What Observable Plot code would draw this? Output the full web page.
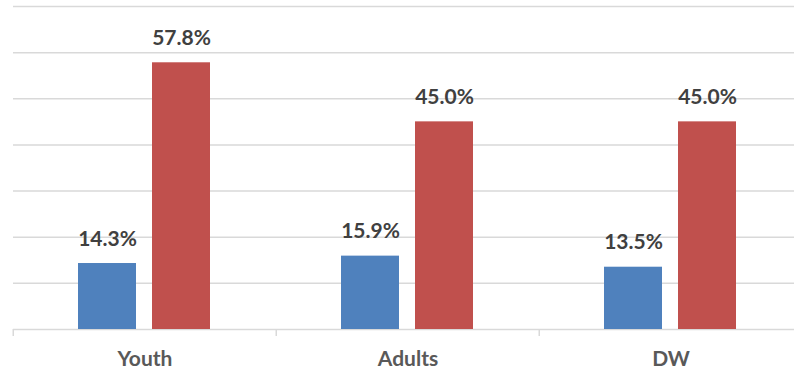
<!DOCTYPE html>
<html>
<head>
<meta charset="utf-8">
<script src="https://cdn.jsdelivr.net/npm/d3@7"></script>
<script src="https://cdn.jsdelivr.net/npm/@observablehq/plot@0.6"></script>
<style>
  html, body { margin: 0; padding: 0; background: #fff; overflow: hidden; }
  #chart svg { display: block; }
</style>
</head>
<body>
<div id="chart"></div>
<script>
// Groups along the bottom axis
const categories = ["Youth", "Adults", "DW"];
// The two series shown side by side in each group
const series = ["Series 1", "Series 2"];
const series1Values = [14.3, 15.9, 13.5];
const series2Values = [57.8, 45.0, 45.0];
// Horizontal gridlines (percent)
const gridValues = [0, 10, 20, 30, 40, 50, 60, 70];
const seriesColors = ["#4f81bd", "#c0504d"];

const data = categories.flatMap((category, i) => [
  {category, series: series[0], value: series1Values[i]},
  {category, series: series[1], value: series2Values[i]}
]);

const width = 794;
const marginLeft = 12;
const marginRight = -8.5; // last group runs slightly past the right edge
const groupWidth = (width - marginLeft - marginRight) / categories.length;
const font = "Lato, 'Open Sans', sans-serif";

const chart = Plot.plot({
  width,
  height: 374,
  marginLeft,
  marginRight,
  marginTop: 6,
  marginBottom: 45,
  style: {fontFamily: font, background: "#fff", overflow: "visible"},
  fx: {domain: categories, paddingInner: 0, paddingOuter: 0, label: null},
  x: {domain: series, paddingInner: 0.2133, paddingOuter: 0.8633, axis: null},
  y: {domain: [0, 70], axis: null},
  color: {domain: series, range: seriesColors},
  marks: [
    Plot.ruleY(gridValues, {stroke: "#d9d9d9", strokeWidth: 1.5}),
    Plot.barY(data, {fx: "category", x: "series", y: "value", fill: "series"}),
    Plot.text(data, {
      fx: "category", x: "series", y: "value",
      text: d => d.value.toFixed(1) + "%",
      lineAnchor: "bottom", dy: -18,
      fontSize: 21, fontWeight: "bold", fill: "#404040"
    }),
    Plot.axisFx({
      anchor: "bottom", tickSize: 0, tickPadding: 22,
      fontSize: 21, fontWeight: "bold", fill: "#595959", label: null
    }),
    // short separators at the group boundaries
    Plot.axisFx({
      anchor: "bottom", text: null, tickSize: 7, dx: -groupWidth / 2,
      stroke: "#d9d9d9", strokeWidth: 1.5, label: null
    })
  ]
});

document.getElementById("chart").appendChild(chart);
</script>
</body>
</html>
